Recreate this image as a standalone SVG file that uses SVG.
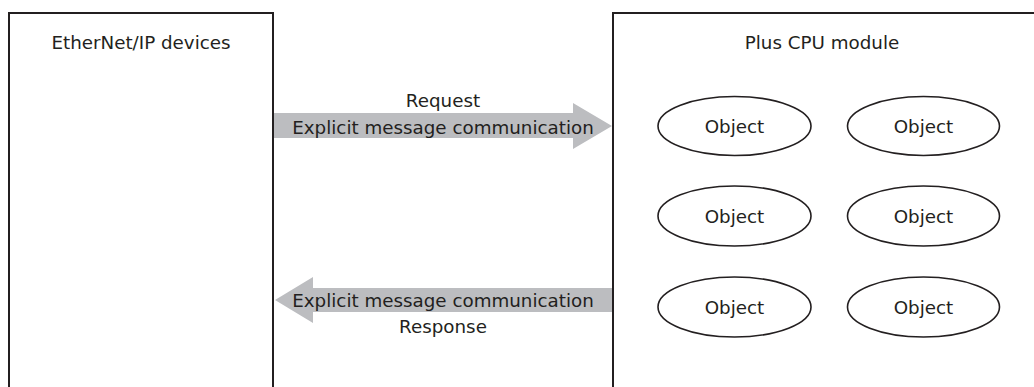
<svg xmlns="http://www.w3.org/2000/svg" width="1034" height="387" viewBox="0 0 1034 387">
<style>
.box{fill:none;stroke:#231f20;stroke-width:2}
.obj{fill:#fff;stroke:#231f20;stroke-width:1.6}
.arrow{fill:#bcbdc0}
text{font-family:"DejaVu Sans",Verdana,sans-serif;font-size:18.3px;fill:#231f20;text-anchor:middle}
</style>
<rect width="1034" height="387" fill="#fff"/>
<g id="ethernet-devices">
<path class="box" d="M9,388 V13 H273 V388"/>
<text x="141" y="48.5">EtherNet/IP devices</text>
</g>
<g id="plus-cpu-module">
<path class="box" d="M613,388 V13 H1036"/>
<text x="822" y="48.5">Plus CPU module</text>
</g>
<g id="connectors">
<g id="request-arrow">
<polygon class="arrow" points="274,113 573,113 573,103 612,126 573,149 573,138 274,138"/>
<text x="443" y="107">Request</text>
<text x="443" y="134">Explicit message communication</text>
</g>
<g id="response-arrow">
<polygon class="arrow" points="612,288 313,288 313,277 275,300 313,323 313,312 612,312"/>
<text x="443" y="307">Explicit message communication</text>
<text x="443" y="333">Response</text>
</g>
</g>
<g id="object-1"><ellipse class="obj" cx="734.5" cy="126" rx="76.5" ry="29.5"/><text x="734.5" y="133">Object</text></g>
<g id="object-2"><ellipse class="obj" cx="923.5" cy="126" rx="76" ry="29.5"/><text x="923.5" y="133">Object</text></g>
<g id="object-3"><ellipse class="obj" cx="734.5" cy="216" rx="76.5" ry="30"/><text x="734.5" y="223">Object</text></g>
<g id="object-4"><ellipse class="obj" cx="923.5" cy="216" rx="76" ry="30"/><text x="923.5" y="223">Object</text></g>
<g id="object-5"><ellipse class="obj" cx="734.5" cy="307" rx="76.5" ry="30"/><text x="734.5" y="314">Object</text></g>
<g id="object-6"><ellipse class="obj" cx="923.5" cy="307" rx="76" ry="30"/><text x="923.5" y="314">Object</text></g>
</svg>
